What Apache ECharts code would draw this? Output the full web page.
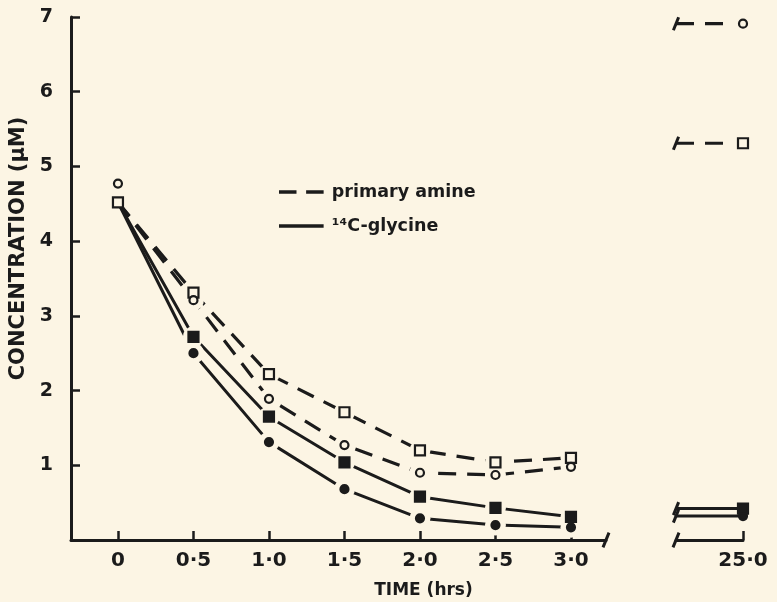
<!DOCTYPE html>
<html>
<head>
<meta charset="utf-8">
<script src="https://cdn.jsdelivr.net/npm/echarts@6/dist/echarts.min.js"></script>
<style>
  html, body { margin: 0; padding: 0; background: #fcf5e4; }
  #chart { width: 777px; height: 602px; }
</style>
</head>
<body>
<div id="chart"></div>
<script>
// ---- data ----
const times = [0, 0.5, 1.0, 1.5, 2.0, 2.5, 3.0];
const xTickValues = [0, 0.5, 1.0, 1.5, 2.0, 2.5, 3.0];
const xTickLabels = ['0', '0·5', '1·0', '1·5', '2·0', '2·5', '3·0'];
const yTickValues = [1, 2, 3, 4, 5, 6, 7];
const yTickLabels = ['1', '2', '3', '4', '5', '6', '7'];
const startConc = 4.52;                                            // common starting point of the curves
const amineCircle   = [4.77, 3.21, 1.89, 1.27, 0.90, 0.87, 0.98];  // open circles
const amineSquare   = [4.52, 3.31, 2.22, 1.71, 1.20, 1.04, 1.10];  // open squares
const glycineSquare = [null, 2.72, 1.65, 1.04, 0.58, 0.43, 0.31];  // filled squares
const glycineCircle = [null, 2.50, 1.31, 0.68, 0.29, 0.20, 0.17];  // filled circles
const lateTime = 25.0;
const lateTickLabels = ['25·0'];
const amineCircleLate = 6.91;
const amineSquareLate = 5.31;
const glycineSquareLate = 0.42;
const glycineCircleLate = 0.32;

// ---- styling ----
const bg = '#fcf5e4';
const ink = '#1b1b1b';
const font = 'DejaVu Sans';
const dashed = { type: [18, 11], width: 3.2, color: ink };
const solid = { type: 'solid', width: 3, color: ink };
const mainX = { min: -0.311, max: 3.232 };
const lateX = { min: 24.85, max: 25.0 };

function curve(name, values, style, withStart) {
  const data = [];
  times.forEach((t, i) => {
    if (i === 0) { data.push([t, withStart ? startConc : values[0]]); }
    else data.push([t, values[i]]);
  });
  return { type: 'line', name, xAxisIndex: 0, yAxisIndex: 0, data, showSymbol: false, symbol: 'none',
           lineStyle: style, silent: true, z: 2 };
}
function pts(values) {
  const out = [];
  times.forEach((t, i) => { if (values[i] != null) out.push([t, values[i]]); });
  return out;
}
function halo(data, axis) {
  return { type: 'scatter', name: 'halo' + axis, xAxisIndex: axis, yAxisIndex: axis, data, symbol: 'circle', symbolSize: 21,
           itemStyle: { color: bg, opacity: 1 }, silent: true, z: 3, clip: false };
}
function marker(data, axis, shape, filled) {
  const size = shape === 'rect' ? 10 : 8;
  return { type: 'scatter', xAxisIndex: axis, yAxisIndex: axis, data, symbol: shape, symbolSize: size,
           itemStyle: { color: filled ? ink : bg, borderColor: ink, borderWidth: 2.2, opacity: 1 },
           silent: true, z: 4, clip: false };
}
function lateLine(v, style) {
  return { type: 'line', xAxisIndex: 1, yAxisIndex: 1, silent: true, z: 2, clip: false,
           data: [ { value: [lateX.min, v], symbol: 'rect', symbolSize: [3, 14], symbolRotate: -22 },
                   { value: [lateTime, v], symbol: 'none' } ],
           showSymbol: true, showAllSymbol: true, itemStyle: { color: ink }, lineStyle: style };
}

const series = [
  // legend-only samples
  { type: 'line', name: 'primary amine', data: [], symbol: 'none', lineStyle: dashed, itemStyle: { color: ink } },
  { type: 'line', name: '¹⁴C-glycine', data: [], symbol: 'none', lineStyle: solid, itemStyle: { color: ink } },
  // curves
  curve('amineSquareLine', amineSquare, dashed, false),
  curve('amineCircleLine', amineCircle, dashed, true),
  curve('glycineSquareLine', glycineSquare, solid, true),
  curve('glycineCircleLine', glycineCircle, solid, true),
  // gaps around markers
  halo([].concat(pts(amineCircle).slice(1), pts(amineSquare).slice(1), pts(glycineSquare), pts(glycineCircle)), 0),
  // markers
  marker(pts(amineSquare), 0, 'rect', false),
  marker(pts(amineCircle), 0, 'circle', false),
  marker(pts(glycineCircle), 0, 'circle', true),
  marker(pts(glycineSquare), 0, 'rect', true),
  // axis breaks
  { type: 'scatter', xAxisIndex: 0, yAxisIndex: 0, data: [[mainX.max, 0]], symbol: 'rect', symbolSize: [3, 16],
    symbolRotate: -22, itemStyle: { color: ink, opacity: 1 }, clip: false, silent: true, z: 5 },
  { type: 'scatter', xAxisIndex: 1, yAxisIndex: 1, data: [[lateX.min, 0]], symbol: 'rect', symbolSize: [3, 16],
    symbolRotate: -22, itemStyle: { color: ink, opacity: 1 }, clip: false, silent: true, z: 5 },
  // late (25 h) values
  lateLine(amineCircleLate, dashed),
  lateLine(amineSquareLate, dashed),
  lateLine(glycineSquareLate, solid),
  lateLine(glycineCircleLate, solid),
  halo([[lateTime, amineCircleLate], [lateTime, amineSquareLate]], 1),
  marker([[lateTime, amineSquareLate]], 1, 'rect', false),
  marker([[lateTime, amineCircleLate]], 1, 'circle', false),
  marker([[lateTime, glycineCircleLate]], 1, 'circle', true),
  marker([[lateTime, glycineSquareLate]], 1, 'rect', true)
];

const axisLineStyle = { show: true, onZero: false, lineStyle: { color: ink, width: 3 } };
const labelStyle = { color: ink, fontFamily: font, fontWeight: 'bold', fontSize: 20 };
const dashIcon = 'path://M0,0 H20 V4 H0 Z M31,0 H51 V4 H31 Z';
const solidIcon = 'path://M0,0 H51 V4 H0 Z';

const option = {
  backgroundColor: bg,
  animation: false,
  legend: {
    data: [ { name: 'primary amine', icon: dashIcon }, { name: '¹⁴C-glycine', icon: solidIcon } ],
    orient: 'vertical', left: 274, top: 178, itemWidth: 51, itemHeight: 3.5, itemGap: 16,
    itemStyle: { color: ink, opacity: 1 },
    textStyle: { color: ink, fontFamily: font, fontWeight: 'bold', fontSize: 17.5 },
    selectedMode: false
  },
  grid: [
    { left: 71, right: 171, top: 17, bottom: 62, outerBoundsMode: 'none', containLabel: false },
    { left: 676, right: 34, top: 17, bottom: 62, outerBoundsMode: 'none', containLabel: false }
  ],
  xAxis: [
    { type: 'value', gridIndex: 0, min: mainX.min, max: mainX.max,
      axisLine: axisLineStyle, splitLine: { show: false },
      axisTick: { show: true, inside: true, length: 9, customValues: xTickValues, lineStyle: { color: ink, width: 2.5 } },
      axisLabel: { ...labelStyle, margin: 11, customValues: xTickValues,
                   formatter: v => xTickLabels[xTickValues.indexOf(v)] ?? '' },
      name: 'TIME (hrs)', nameLocation: 'middle', nameGap: 42,
      nameTextStyle: { color: ink, fontFamily: font, fontWeight: 'bold', fontSize: 17, padding: [0, 0, 0, 170] } },
    { type: 'value', gridIndex: 1, min: lateX.min, max: lateX.max,
      axisLine: axisLineStyle, splitLine: { show: false },
      axisTick: { show: true, inside: true, length: 9, customValues: [lateTime], lineStyle: { color: ink, width: 2.5 } },
      axisLabel: { ...labelStyle, margin: 11, customValues: [lateTime], formatter: () => lateTickLabels[0] } }
  ],
  yAxis: [
    { type: 'value', gridIndex: 0, min: 0, max: 7,
      axisLine: axisLineStyle, splitLine: { show: false },
      axisTick: { show: true, inside: true, length: 9, customValues: yTickValues, lineStyle: { color: ink, width: 2.5 } },
      axisLabel: { ...labelStyle, fontSize: 19, margin: 18, customValues: yTickValues,
                   formatter: v => yTickLabels[yTickValues.indexOf(v)] ?? '' },
      name: 'CONCENTRATION (μM)', nameLocation: 'middle', nameGap: 41, nameRotate: 90,
      nameTextStyle: { color: ink, fontFamily: font, fontWeight: 'bold', fontSize: 21, padding: [0, 0, 0, 60] } },
    { type: 'value', gridIndex: 1, min: 0, max: 7, show: false }
  ],
  series
};

const chart = echarts.init(document.getElementById('chart'), null, { renderer: 'canvas' });
chart.setOption(option);
</script>
</body>
</html>
